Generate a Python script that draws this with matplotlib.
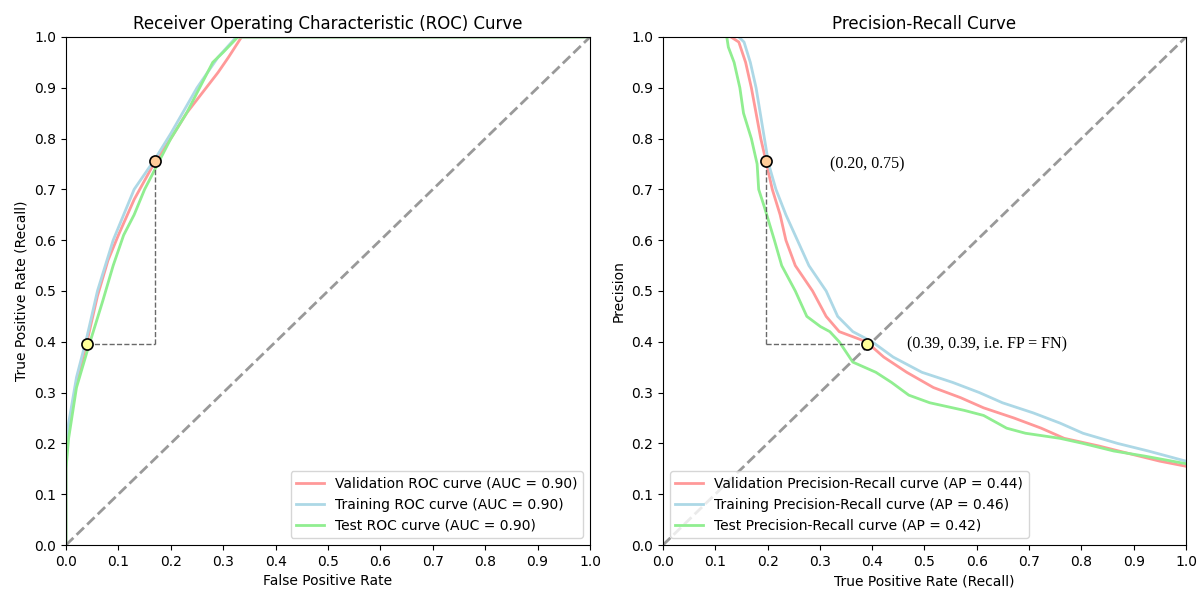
import matplotlib
matplotlib.use("Agg")
import matplotlib.pyplot as plt

# ---------------- ROC data ----------------
val_fpr = [0.0, 0.0, 0.005, 0.02, 0.04, 0.06, 0.08, 0.10, 0.13, 0.17, 0.20, 0.23, 0.26, 0.29, 0.31, 0.335, 1.0]
val_tpr = [0.0, 0.18, 0.23, 0.32, 0.40, 0.49, 0.56, 0.61, 0.68, 0.755, 0.80, 0.85, 0.89, 0.93, 0.96, 1.0, 1.0]

train_fpr = [0.0, 0.0, 0.005, 0.02, 0.04, 0.06, 0.09, 0.13, 0.17, 0.20, 0.25, 0.29, 0.325, 1.0]
train_tpr = [0.0, 0.19, 0.24, 0.33, 0.41, 0.50, 0.60, 0.70, 0.76, 0.81, 0.90, 0.96, 1.0, 1.0]

test_fpr = [0.0, 0.0, 0.005, 0.02, 0.04, 0.07, 0.09, 0.11, 0.13, 0.15, 0.17, 0.20, 0.23, 0.26, 0.28, 0.30, 0.328, 1.0]
test_tpr = [0.0, 0.15, 0.21, 0.31, 0.38, 0.48, 0.55, 0.61, 0.65, 0.70, 0.74, 0.80, 0.85, 0.91, 0.95, 0.97, 1.0, 1.0]

roc_labels = ["Validation ROC curve (AUC = 0.90)",
              "Training ROC curve (AUC = 0.90)",
              "Test ROC curve (AUC = 0.90)"]

# ---------------- Precision-Recall data ----------------
val_rec = [0.13, 0.145, 0.158, 0.169, 0.187, 0.197, 0.209, 0.224, 0.235, 0.253, 0.286, 0.312, 0.337,
           0.363, 0.389, 0.422, 0.466, 0.517, 0.569, 0.613, 0.671, 0.723, 0.767, 0.833, 0.891, 0.95, 1.0]
val_prec = [1.0, 0.99, 0.95, 0.90, 0.80, 0.755, 0.70, 0.65, 0.60, 0.55, 0.50, 0.45, 0.42,
            0.41, 0.40, 0.37, 0.34, 0.31, 0.29, 0.27, 0.25, 0.23, 0.21, 0.195, 0.18, 0.165, 0.155]

train_rec = [0.145, 0.155, 0.167, 0.178, 0.194, 0.202, 0.216, 0.235, 0.257, 0.279, 0.312, 0.334, 0.363,
             0.40, 0.44, 0.495, 0.554, 0.605, 0.649, 0.708, 0.759, 0.803, 0.869, 0.928, 1.0]
train_prec = [1.0, 0.99, 0.95, 0.90, 0.80, 0.75, 0.70, 0.65, 0.60, 0.55, 0.50, 0.45, 0.42,
              0.40, 0.37, 0.34, 0.32, 0.30, 0.28, 0.26, 0.24, 0.22, 0.20, 0.185, 0.165]

test_rec = [0.122, 0.125, 0.136, 0.147, 0.154, 0.169, 0.18, 0.183, 0.194, 0.213, 0.227, 0.253, 0.275,
            0.301, 0.319, 0.337, 0.363, 0.407, 0.437, 0.47, 0.51, 0.576, 0.613, 0.657, 0.693, 0.759,
            0.803, 0.862, 0.921, 1.0]
test_prec = [1.0, 0.98, 0.95, 0.90, 0.85, 0.80, 0.75, 0.70, 0.665, 0.60, 0.55, 0.50, 0.45,
             0.43, 0.42, 0.40, 0.36, 0.34, 0.32, 0.295, 0.28, 0.265, 0.255, 0.23, 0.22, 0.21,
             0.20, 0.185, 0.175, 0.16]

pr_labels = ["Validation Precision-Recall curve (AP = 0.44)",
             "Training Precision-Recall curve (AP = 0.46)",
             "Test Precision-Recall curve (AP = 0.42)"]

# marked points
roc_pt_a = (0.04, 0.395)
roc_pt_b = (0.17, 0.755)
pr_pt_a = (0.197, 0.755)
pr_pt_b = (0.39, 0.395)
pr_text_a = "(0.20, 0.75)"
pr_text_b = "(0.39, 0.39, i.e. FP = FN)"

ticks = [0.0, 0.1, 0.2, 0.3, 0.4, 0.5, 0.6, 0.7, 0.8, 0.9, 1.0]

colors = ["#FF9999", "#ADD8E6", "#90EE90"]
col_orange = "#FFCC99"
col_yellow = "#FFFF99"

fig = plt.figure(figsize=(11.98, 5.89), dpi=100)
ax1 = fig.add_axes([0.0551, 0.0747, 0.4374, 0.8625])
ax2 = fig.add_axes([0.5534, 0.0747, 0.4366, 0.8625])

# ---- ROC ----
for (x, y), c, lab in zip([(val_fpr, val_tpr), (train_fpr, train_tpr), (test_fpr, test_tpr)], colors, roc_labels):
    ax1.plot(x, y, color=c, lw=2, label=lab)
ax1.plot([0, 1], [0, 1], color="gray", lw=2, ls="--", alpha=0.8)
ax1.plot([roc_pt_a[0], roc_pt_b[0]], [roc_pt_a[1], roc_pt_a[1]], color="#444444", lw=1, ls="--", alpha=0.8)
ax1.plot([roc_pt_b[0], roc_pt_b[0]], [roc_pt_a[1], roc_pt_b[1]], color="#444444", lw=1, ls="--", alpha=0.8)
ax1.plot(*roc_pt_b, "o", ms=8, mfc=col_orange, mec="black", mew=1.2, zorder=5)
ax1.plot(*roc_pt_a, "o", ms=8, mfc=col_yellow, mec="black", mew=1.2, zorder=5)
ax1.set_xlim(0, 1)
ax1.set_ylim(0, 1)
ax1.set_xticks(ticks)
ax1.set_yticks(ticks)
ax1.set_xlabel("False Positive Rate", fontsize=10)
ax1.set_ylabel("True Positive Rate (Recall)", fontsize=10)
ax1.set_title("Receiver Operating Characteristic (ROC) Curve", fontsize=12)
ax1.legend(loc="lower right", fontsize=10)

# ---- PR ----
for (x, y), c, lab in zip([(val_rec, val_prec), (train_rec, train_prec), (test_rec, test_prec)], colors, pr_labels):
    ax2.plot(x, y, color=c, lw=2, label=lab)
ax2.plot([0, 1], [0, 1], color="gray", lw=2, ls="--", alpha=0.8)
ax2.plot([pr_pt_a[0], pr_pt_a[0]], [pr_pt_b[1], pr_pt_a[1]], color="#444444", lw=1, ls="--", alpha=0.8)
ax2.plot([pr_pt_a[0], pr_pt_b[0]], [pr_pt_b[1], pr_pt_b[1]], color="#444444", lw=1, ls="--", alpha=0.8)
ax2.plot(*pr_pt_a, "o", ms=8, mfc=col_orange, mec="black", mew=1.2, zorder=5)
ax2.plot(*pr_pt_b, "o", ms=8, mfc=col_yellow, mec="black", mew=1.2, zorder=5)
ax2.text(0.32, pr_pt_a[1] - 0.005, pr_text_a, family="Liberation Serif", fontsize=11.5, va="center")
ax2.text(0.467, pr_pt_b[1], pr_text_b, family="Liberation Serif", fontsize=11.5, va="center")
ax2.set_xlim(0, 1)
ax2.set_ylim(0, 1)
ax2.set_xticks(ticks)
ax2.set_yticks(ticks)
ax2.set_xlabel("True Positive Rate (Recall)", fontsize=10)
ax2.set_ylabel("Precision", fontsize=10)
ax2.set_title("Precision-Recall Curve", fontsize=12)
ax2.legend(loc="lower left", fontsize=10)

fig.savefig("out.png", dpi=100)
